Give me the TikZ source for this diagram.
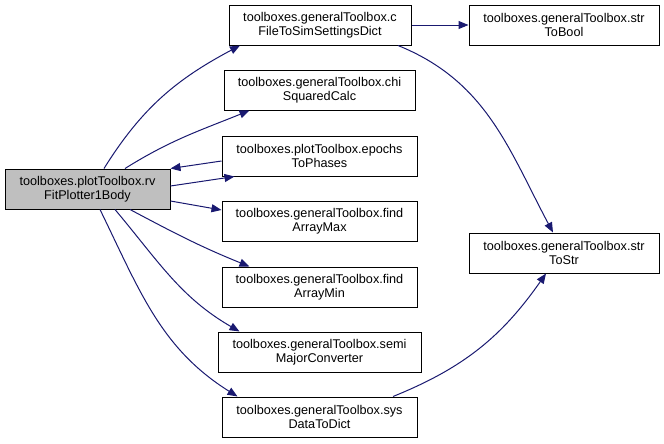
\documentclass[tikz,border=0pt]{standalone}
\usepackage{fontspec}
\setmainfont{Liberation Sans}
\usetikzlibrary{arrows.meta,calc}
\definecolor{edgec}{HTML}{191970}
\definecolor{grayfill}{HTML}{BFBFBF}
\tikzset{
  fn/.style={draw=black, line width=0.75pt, fill=white, rectangle, inner sep=0pt,
    minimum height=40*0.75pt, align=center, font=\fontsize{9.5}{10.2}\selectfont},
  call/.style={draw=edgec, line width=0.75pt, -{Triangle[length=7.5pt,width=6pt]}, fill=none}
}
\begin{document}
\begin{tikzpicture}[x=0.75pt,y=-0.75pt]
\useasboundingbox (0,0) rectangle (664,443);
\node[fn, fill=grayfill, minimum width=165*0.75pt] (rv) at (87.5,189) {toolboxes.plotToolbox.rv\\FitPlotter1Body};
\node[fn, minimum width=182*0.75pt] (cf) at (320,25) {toolboxes.generalToolbox.c\\FileToSimSettingsDict};
\node[fn, minimum width=191*0.75pt] (chi) at (319.5,90) {toolboxes.generalToolbox.chi\\SquaredCalc};
\node[fn, minimum width=195*0.75pt] (ep) at (319.5,156) {toolboxes.plotToolbox.epochs\\ToPhases};
\node[fn, minimum width=195*0.75pt] (mx) at (319.5,221.5) {toolboxes.generalToolbox.find\\ArrayMax};
\node[fn, minimum width=195*0.75pt] (mn) at (319.5,287) {toolboxes.generalToolbox.find\\ArrayMin};
\node[fn, minimum width=203*0.75pt] (sm) at (319.5,352) {toolboxes.generalToolbox.semi\\MajorConverter};
\node[fn, minimum width=195*0.75pt] (sy) at (319.5,417) {toolboxes.generalToolbox.sys\\DataToDict};
\node[fn, minimum width=190*0.75pt] (sb) at (564,25) {toolboxes.generalToolbox.str\\ToBool};
\node[fn, minimum width=190*0.75pt] (ss) at (564,253) {toolboxes.generalToolbox.str\\ToStr};

\draw[call] ($(rv.north)+(16.5,0)$) to[out=58,in=208] ($(cf.south)+(-80,0)$);
\draw[call] ($(rv.north)+(37.5,0)$) to[out=32,in=202] ($(chi.south)+(-70,0)$);
\draw[call] ($(ep.west)+(0,5)$) -- (rv.north east);
\draw[call] ($(rv.east)+(0,-3)$) -- ($(ep.south west)+(13,0)$);
\draw[call] ($(rv.east)+(0,12)$) -- ($(mx.west)+(0,-11.5)$);
\draw[call] ($(rv.south)+(42.5,0)$) to[out=-28,in=158] ($(mn.north)+(-70,0)$);
\draw[call] ($(rv.south)+(27.5,0)$) to[out=-50,in=150] ($(sm.north)+(-80,0)$);
\draw[call] ($(rv.south)+(12.5,0)$) to[out=-64,in=148] ($(sy.north)+(-82,0)$);
\draw[call] (cf.east) -- (sb.west);
\draw[call] ($(cf.south)+(78,0)$) to[out=-22,in=118] ($(ss.north)+(-11,0)$);
\draw[call] ($(sy.north)+(73.5,0)$) to[out=22,in=235] ($(ss.south)+(-18,0)$);
\end{tikzpicture}
\end{document}
